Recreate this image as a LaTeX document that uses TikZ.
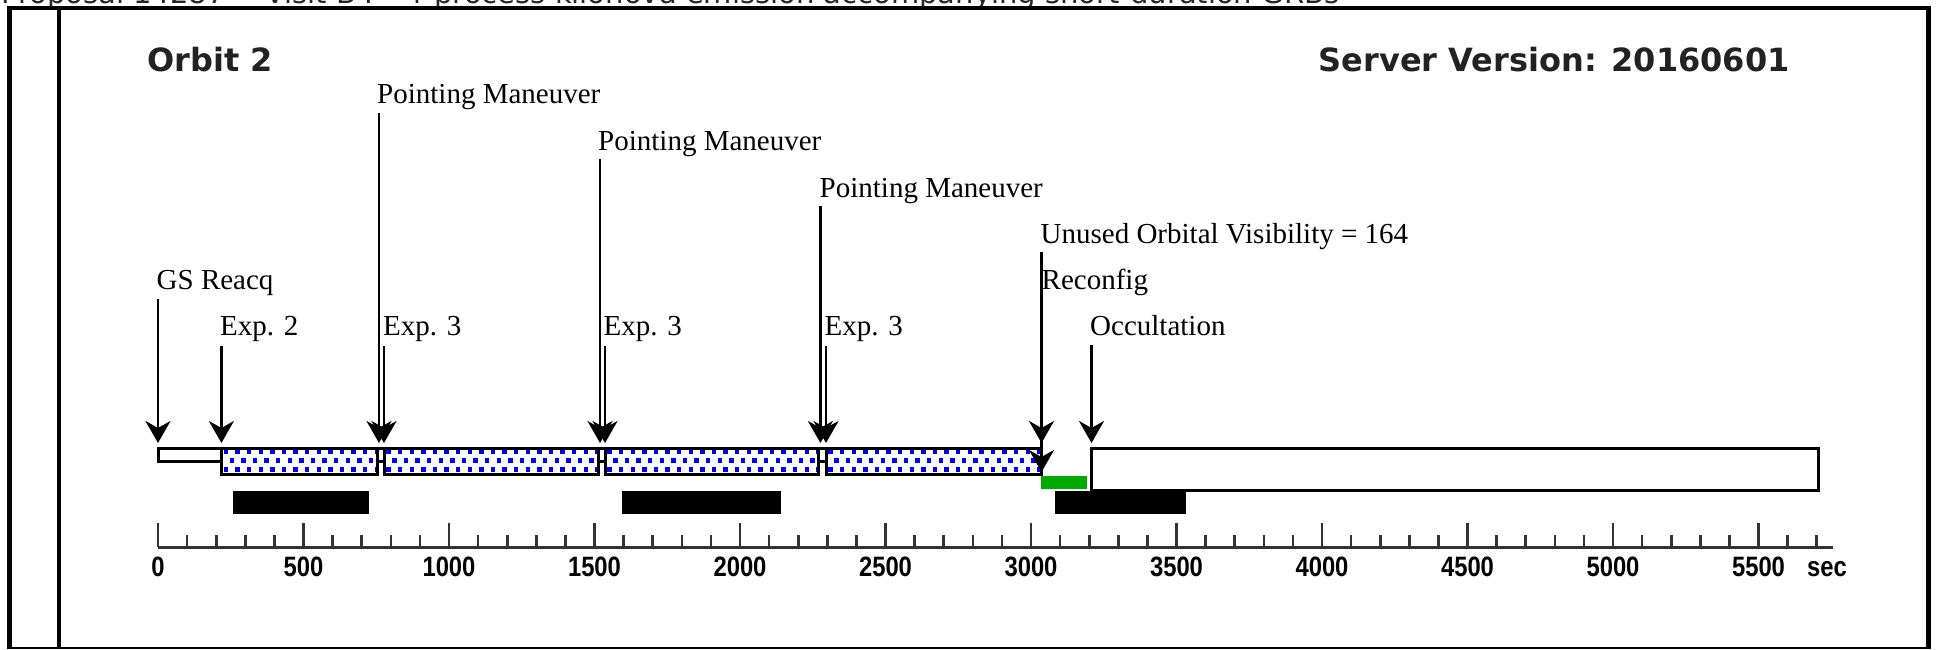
\documentclass[tikz,border=0pt]{standalone}
\usepackage{fontspec}
\setmainfont{Liberation Serif}
\newfontfamily\titlefont{DejaVu Sans}
\newfontfamily\axisfont{Liberation Sans}[FakeStretch=0.85]
\usetikzlibrary{arrows.meta}
\definecolor{expblue}{RGB}{0,0,255}
\definecolor{reconfgreen}{RGB}{0,170,0}
\definecolor{axisgray}{RGB}{51,51,51}
\definecolor{titlegray}{RGB}{34,34,34}
\newcommand\dotbar[4]{%
  \fill[white] (#1,#2) rectangle (#3,#4);
  \begin{scope}
    \clip (#1,#2) rectangle (#3,#4);
    \pgfmathtruncatemacro\ncols{(#3-#1)/11.6}
    \foreach \k in {0,...,\ncols}{
      \pgfmathsetmacro\xa{#1+4.5+11.6*\k}
      \pgfmathsetmacro\xb{\xa+5.8}
      \fill[expblue] (\xa-2.2,449.3) rectangle ++(4.4,5);
      \fill[expblue] (\xa-2.2,466.7) rectangle ++(4.4,5);
      \fill[expblue] (\xb-2.2,458) rectangle ++(4.4,5);
    }
  \end{scope}
  \draw[barline] (#1,#2) rectangle (#3,#4);
}
\begin{document}
\begin{tikzpicture}[x=1pt,y=-1pt,
  lbl/.style={anchor=base west, inner sep=0pt, font=\fontsize{29}{34}\selectfont},
  evarrow/.style={line width=2.6pt, -{Stealth[length=22pt,width=25pt,inset=7pt]}},
  barline/.style={line width=3pt, black},
  frameline/.style={black},
  axisline/.style={line width=3pt, axisgray},
  tickline/.style={line width=2.6pt, axisgray},
  ticklabel/.style={anchor=base, inner sep=0pt, font=\axisfont\bfseries\fontsize{28}{30}\selectfont, text=black},
  titletext/.style={anchor=base west, inner sep=0pt, font=\titlefont\bfseries\fontsize{32}{36}\selectfont, text=titlegray}
]
\useasboundingbox (0,0) rectangle (1939,649);
\fill[white] (0,0) rectangle (1939,649);

% clipped header text
\begin{scope}
  \clip (0,0) rectangle (1939,649);
  \node[anchor=base west, inner sep=0pt, font=\titlefont\fontsize{29}{32}\selectfont, text=black!85] (hdr) at (1,3) {Proposal 14287 -- Visit B4 -- r-process kilonova emission accompanying short-duration GRBs};
\end{scope}

% frame
\draw[frameline, line width=4pt] (7,8) -- (1931,8);
\draw[frameline, line width=5pt] (9.5,6) -- (9.5,649);
\draw[frameline, line width=4pt] (59,8) -- (59,649);
\draw[frameline, line width=5pt] (1928,6) -- (1928,649);
\draw[frameline, line width=2.5pt] (7,648) -- (1931,648);

% titles
\node[titletext] (orbit) at (147,71) {Orbit 2};
\node[titletext, anchor=base east] (server) at (1790,71) {Server Version: 20160601};

% bars
\draw[barline, fill=white] (158,448) rectangle (221.4,461);
\dotbar{221.4}{448}{377}{474}
\draw[barline, fill=white] (377,448) rectangle (384,461);
\dotbar{384}{448}{598}{474}
\draw[barline, fill=white] (598,448) rectangle (605,461);
\dotbar{605}{448}{818.5}{474}
\draw[barline, fill=white] (818.5,448) rectangle (826,461);
\dotbar{826}{448}{1041.5}{474}
\fill[reconfgreen] (1040.6,476) rectangle (1087,488.5);
\draw[barline, fill=white] (1091.5,448) rectangle (1818,490);

% black bars
\fill[black] (232.6,491) rectangle (368.8,514);
\fill[black] (621.7,491) rectangle (781,514);
\fill[black] (1054.7,491) rectangle (1185.7,514);

% labels
\node[lbl] (pm1) at (377,103) {Pointing Maneuver};
\node[lbl] (pm2) at (598,150) {Pointing Maneuver};
\node[lbl] (pm3) at (819.5,197) {Pointing Maneuver};
\node[lbl] (uov) at (1040.5,243) {Unused Orbital Visibility = 164};
\node[lbl] (gs) at (156.5,289) {GS Reacq};
\node[lbl] (reconf) at (1041.5,289) {Reconfig};
\node[lbl] (exp2) at (220,335) {Exp. 2};
\node[lbl] (exp3a) at (383,335) {Exp. 3};
\node[lbl] (exp3b) at (603.5,335) {Exp. 3};
\node[lbl] (exp3c) at (824.5,335) {Exp. 3};
\node[lbl] (occ) at (1090,335) {Occultation};

% arrow endpoints
\coordinate (pm1s) at (379,113);    \coordinate (pm1t) at (379,443);
\coordinate (pm2s) at (600,159);    \coordinate (pm2t) at (600,443);
\coordinate (pm3s) at (820.4,206);  \coordinate (pm3t) at (820.4,443);
\coordinate (uovs) at (1041.5,252); \coordinate (uovt) at (1041.5,443);
\coordinate (gss) at (158,299);     \coordinate (gst) at (158,443);
\coordinate (rcs) at (1041.5,299);  \coordinate (rct) at (1041.5,472);
\coordinate (e2s) at (221.4,346);   \coordinate (e2t) at (221.4,443);
\coordinate (e3as) at (384,346);    \coordinate (e3at) at (384,443);
\coordinate (e3bs) at (605,346);    \coordinate (e3bt) at (605,443);
\coordinate (e3cs) at (826,346);    \coordinate (e3ct) at (826,443);
\coordinate (occs) at (1091.5,345); \coordinate (occt) at (1091.5,443);

\draw[evarrow] (pm1s) -- (pm1t);
\draw[evarrow] (pm2s) -- (pm2t);
\draw[evarrow] (pm3s) -- (pm3t);
\draw[evarrow] (uovs) -- (uovt);
\draw[evarrow] (gss) -- (gst);
\draw[evarrow] (rcs) -- (rct);
\draw[evarrow] (e2s) -- (e2t);
\draw[evarrow] (e3as) -- (e3at);
\draw[evarrow] (e3bs) -- (e3bt);
\draw[evarrow] (e3cs) -- (e3ct);
\draw[evarrow] (occs) -- (occt);

% axis
\coordinate (ax0) at (158,547);
\coordinate (axend) at (1833,547);
\draw[axisline] (ax0) -- (axend);
\foreach \k in {0,...,57}{
  \pgfmathsetmacro\tx{158+29.1*\k}
  \pgfmathtruncatemacro\md{mod(\k,5)}
  \ifnum\md=0
    \draw[tickline] (\tx,547) -- (\tx,523);
  \else
    \draw[tickline] (\tx,547) -- (\tx,535);
  \fi
}
\foreach \v in {0,500,...,5500}{
  \pgfmathsetmacro\tx{158+0.291*\v}
  \node[ticklabel] (lab\v) at (\tx,576) {\v};
}
\node[ticklabel, anchor=base west] (sec) at (1807,576) {sec};
\end{tikzpicture}
\end{document}
